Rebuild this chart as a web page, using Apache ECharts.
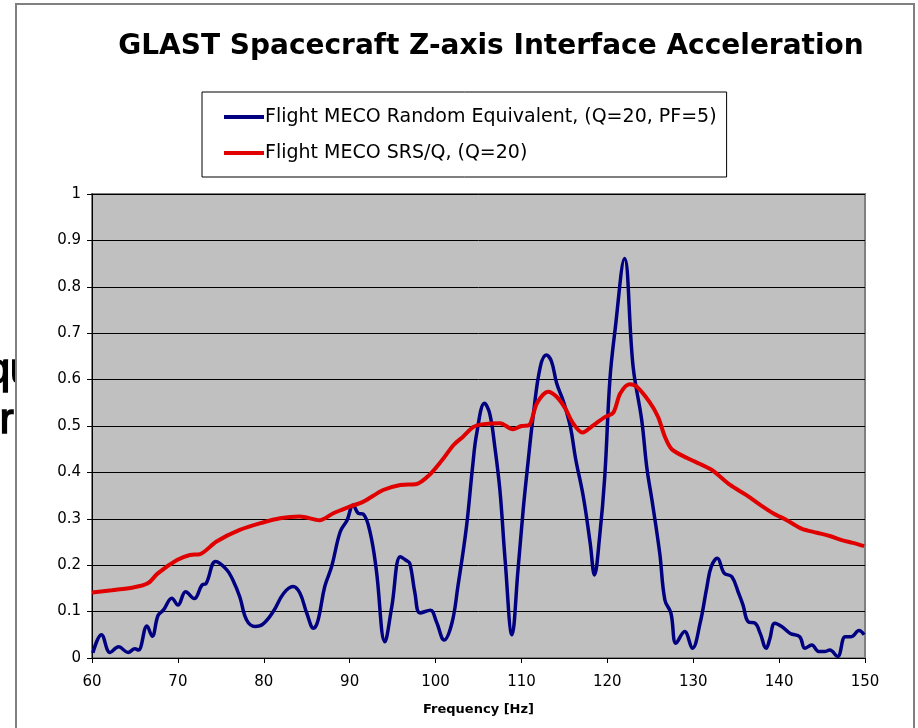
<!DOCTYPE html>
<html>
<head>
<meta charset="utf-8">
<script src="https://cdn.jsdelivr.net/npm/echarts@6/dist/echarts.min.js"></script>
<style>
  html, body { margin: 0; padding: 0; background: #fff; }
  #main { width: 918px; height: 728px; }
</style>
</head>
<body>
<div id="main"></div>
<script type="text/javascript">
// Flight MECO Random Equivalent, (Q=20, PF=5)
var randFreq = [60.1, 61.1, 62.1, 63.1, 64.2, 65, 65.4, 66.4, 67, 67.7, 68.3, 69.3, 70, 70.9, 71.9, 72.8, 73.3, 74.4, 75.7, 76.4, 77.2, 78, 79, 79.9, 81.1, 82.3, 83.4, 84.2, 85, 85.8, 86.3, 87.1, 87.9, 88.9, 89.7, 90.4, 91, 91.6, 92.4, 93.1, 94.1, 94.9, 95.9, 96.6, 97, 97.6, 98.2, 99.4, 100.1, 101, 101.9, 102.6, 103.6, 104.3, 104.8, 105.7, 106.3, 106.9, 107.5, 108.1, 108.9, 109.6, 110.2, 110.7, 111.4, 112.2, 112.9, 113.5, 114.1, 114.9, 115.7, 116.3, 117.2, 118, 118.5, 119.1, 119.7, 120.3, 120.9, 122, 123, 124, 124.6, 125.2, 126.1, 126.7, 127.4, 128, 129, 129.9, 130.8, 131.6, 132.1, 132.8, 133.6, 134.5, 135.3, 135.8, 136.4, 137.2, 137.8, 138.5, 138.9, 139.5, 140.3, 141.3, 142.4, 143, 143.8, 144.6, 145.3, 145.9, 146.8, 147.7, 148.4, 149.3, 149.9];
var randVal = [0.011, 0.05, 0.012, 0.024, 0.012, 0.02, 0.017, 0.069, 0.047, 0.092, 0.103, 0.129, 0.114, 0.143, 0.128, 0.157, 0.161, 0.208, 0.19, 0.168, 0.132, 0.082, 0.068, 0.073, 0.1, 0.139, 0.154, 0.14, 0.097, 0.064, 0.08, 0.154, 0.197, 0.272, 0.297, 0.33, 0.312, 0.31, 0.269, 0.19, 0.035, 0.11, 0.218, 0.21, 0.204, 0.14, 0.097, 0.103, 0.078, 0.039, 0.075, 0.154, 0.283, 0.41, 0.485, 0.549, 0.527, 0.455, 0.36, 0.211, 0.05, 0.19, 0.319, 0.41, 0.527, 0.628, 0.653, 0.639, 0.592, 0.552, 0.498, 0.43, 0.348, 0.248, 0.179, 0.261, 0.391, 0.6, 0.707, 0.861, 0.628, 0.513, 0.41, 0.34, 0.226, 0.125, 0.097, 0.032, 0.057, 0.021, 0.075, 0.154, 0.197, 0.215, 0.183, 0.175, 0.139, 0.114, 0.078, 0.075, 0.053, 0.021, 0.04, 0.075, 0.068, 0.053, 0.046, 0.021, 0.028, 0.014, 0.014, 0.017, 0.003, 0.046, 0.046, 0.059, 0.05];
// Flight MECO SRS/Q, (Q=20)
var srsFreq = [60, 62.3, 64.8, 66.5, 67.7, 69.9, 71.4, 72.6, 74.5, 77.2, 79.9, 81.9, 84.2, 86.5, 88.1, 90, 91.6, 93.9, 95.9, 97.8, 99.2, 100.7, 102.1, 103.2, 104.4, 105.6, 107.5, 109, 110, 110.9, 111.8, 113.1, 114.1, 115.1, 116, 117.1, 118.4, 119.7, 120.7, 121.5, 122.6, 123.4, 124.9, 125.9, 126.7, 127.5, 129.3, 130.8, 132.2, 134.3, 136.2, 137.8, 139.3, 140.9, 142.6, 144.4, 145.9, 147.3, 148.6, 149.9];
var srsVal = [0.141, 0.146, 0.152, 0.161, 0.183, 0.211, 0.222, 0.224, 0.251, 0.276, 0.292, 0.301, 0.305, 0.297, 0.312, 0.326, 0.337, 0.362, 0.373, 0.375, 0.393, 0.425, 0.459, 0.477, 0.498, 0.504, 0.506, 0.493, 0.5, 0.502, 0.549, 0.574, 0.563, 0.538, 0.506, 0.486, 0.502, 0.519, 0.529, 0.57, 0.59, 0.585, 0.552, 0.52, 0.477, 0.45, 0.431, 0.418, 0.405, 0.373, 0.351, 0.33, 0.312, 0.297, 0.279, 0.27, 0.263, 0.254, 0.248, 0.241];
var xTicks = [60, 70, 80, 90, 100, 110, 120, 130, 140, 150];

function pairs(xs, ys) {
	var res = [];
	for (var i = 0; i < xs.length; i++) {
		res.push([xs[i], ys[i]]);
	}
	return res;
}

var myChart = echarts.init(document.getElementById('main'), null, { renderer: 'canvas' });
var option = {
	backgroundColor: '#ffffff',
	animation: false,
	title: {
		text: 'GLAST Spacecraft Z-axis Interface Acceleration',
		left: 486,
		top: 28,
		textAlign: 'center',
		textStyle: {
			fontFamily: 'DejaVu Sans',
			fontWeight: 'bold',
			fontSize: 28,
			color: '#000'
		}
	},
	legend: {
		orient: 'vertical',
		left: 202,
		top: 92,
		padding: [14, 10, 13, 22],
		itemGap: 14,
		itemWidth: 40,
		itemHeight: 4,
		icon: 'rect',
		borderColor: '#000',
		borderWidth: 1,
		backgroundColor: '#fff',
		textStyle: {
			fontFamily: 'DejaVu Sans',
			fontSize: 19,
			lineHeight: 22,
			color: '#000',
			padding: [0, 0, 0, -4]
		},
		data: ['Flight MECO Random Equivalent, (Q=20, PF=5)', 'Flight MECO SRS/Q, (Q=20)']
	},
	graphic: [
		// bits of slide text peeking out behind the chart frame
		{ type: 'text', z: -3, left: -14, top: 350, style: { text: 'qu', fontFamily: 'Liberation Sans', fontSize: 42, fill: '#000', stroke: '#000', lineWidth: 1.5 } },
		{ type: 'text', z: -3, left: -1, top: 400, style: { text: 'r', fontFamily: 'Liberation Sans', fontSize: 42, fill: '#000', stroke: '#000', lineWidth: 1.5 } },
		{ type: 'rect', z: -2, shape: { x: 16, y: 4, width: 898, height: 740 }, style: { fill: '#fff', stroke: '#808080', lineWidth: 2 } }
	],
	grid: {
		left: 92,
		right: 53,
		top: 194,
		bottom: 70,
		show: true,
		backgroundColor: '#c0c0c0',
		borderColor: '#808080',
		borderWidth: 2
	},
	xAxis: {
		type: 'value',
		min: 60,
		max: 150,
		interval: 10,
		name: 'Frequency [Hz]',
		nameLocation: 'middle',
		nameGap: 45,
		nameTextStyle: { fontFamily: 'DejaVu Sans', fontWeight: 'bold', fontSize: 13, color: '#000' },
		axisLine: { show: true, onZero: false, lineStyle: { color: '#000', width: 1 } },
		axisTick: { show: true, inside: false, length: 5, lineStyle: { color: '#000' } },
		axisLabel: {
			margin: 17,
			fontFamily: 'DejaVu Sans',
			fontSize: 15,
			color: '#000',
			customValues: xTicks
		},
		splitLine: { show: false }
	},
	yAxis: {
		type: 'value',
		min: 0,
		max: 1,
		interval: 0.1,
		axisLine: { show: true, lineStyle: { color: '#000', width: 1 } },
		axisTick: { show: true, inside: false, length: 5, lineStyle: { color: '#000' } },
		axisLabel: { margin: 11, fontFamily: 'DejaVu Sans', fontSize: 15, color: '#000' },
		splitLine: { show: true, lineStyle: { color: '#000', width: 1 } }
	},
	series: [
		{
			name: 'Flight MECO Random Equivalent, (Q=20, PF=5)',
			type: 'line',
			data: pairs(randFreq, randVal),
			showSymbol: false,
			smooth: 0.4,
			itemStyle: { color: '#000080' },
			lineStyle: { color: '#000080', width: 3.5 }
		},
		{
			name: 'Flight MECO SRS/Q, (Q=20)',
			type: 'line',
			data: pairs(srsFreq, srsVal),
			showSymbol: false,
			smooth: 0.3,
			itemStyle: { color: '#e00000' },
			lineStyle: { color: '#e00000', width: 4 }
		}
	]
};
myChart.setOption(option);
</script>
</body>
</html>
